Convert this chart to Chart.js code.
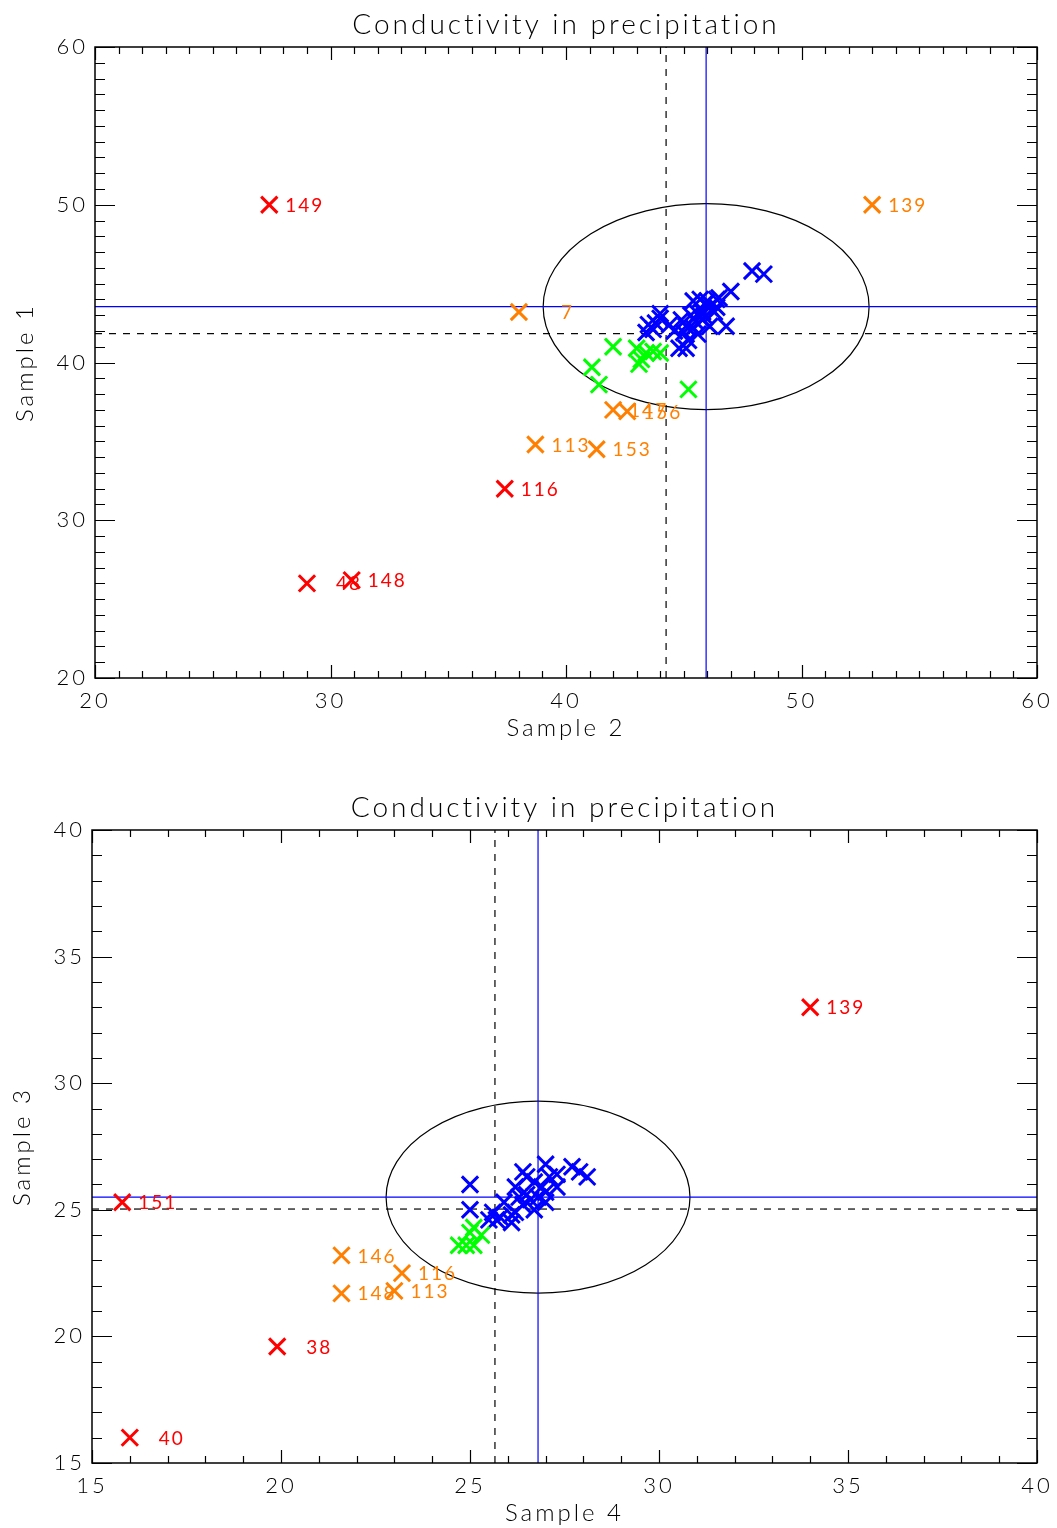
<!DOCTYPE html>
<html lang="en">
<head>
  <meta charset="UTF-8">
  <title>Conductivity in precipitation</title>
  <script src="https://cdn.jsdelivr.net/npm/chart.js"></script>
  <style>
    body { margin: 0; background: #fff; }
    canvas { display: block; }
  </style>
</head>
<body>
  <canvas id="chartTop" width="1057" height="764"></canvas>
  <canvas id="chartBottom" width="1057" height="764"></canvas>

  <script>
    // ---------- top panel: Sample 2 (x) vs Sample 1 (y)
    const topTitle = 'Conductivity in precipitation';
    const topXRange = [20, 60];
    const topYRange = [20, 60];
    const topBlue = [
      [47.9, 45.8], [48.4, 45.6], [47.0, 44.5], [46.5, 44.1], [46.4, 44.0], [46.1, 43.5],
      [45.8, 43.2], [45.4, 43.9], [45.6, 43.1], [46.8, 42.3], [44.0, 43.1], [44.0, 42.8],
      [43.8, 42.5], [43.5, 42.4], [43.4, 41.9], [43.7, 42.1], [44.4, 42.4], [44.9, 42.7],
      [45.0, 41.9], [45.1, 40.9], [44.8, 40.9], [45.6, 41.8], [45.8, 42.7], [46.1, 42.3],
      [45.5, 42.6], [45.3, 43.0], [45.2, 41.4], [45.7, 44.0], [45.9, 43.7], [46.3, 43.2],
      [45.4, 42.2], [45.9, 42.9], [46.0, 43.9], [45.1, 42.3], [44.6, 42.0], [46.4, 43.5]
    ];
    const topGreen = [
      [42.0, 41.0], [41.1, 39.7], [41.4, 38.6], [43.0, 40.9], [43.1, 39.9],
      [43.4, 40.6], [43.7, 40.7], [44.0, 40.6], [45.2, 38.3], [43.2, 40.2]
    ];
    const topOrange = [[53.0, 50.0], [38.0, 43.2], [42.0, 37.0], [42.6, 36.9], [38.7, 34.8], [41.3, 34.5]];
    const topOrangeLabels = ['139', '7', '147', '156', '113', '153'];
    const topRed = [[27.4, 50.0], [37.4, 32.0], [29.0, 26.0], [30.9, 26.2]];
    const topRedLabels = ['149', '116', '48', '148'];
    const topMean = [45.95, 43.54];     // solid blue cross lines
    const topMedian = [44.25, 41.83];   // dashed black cross lines
    const topEllipse = [45.95, 43.54, 6.92, 6.53]; // centre x, centre y, half width, half height

    // ---------- bottom panel: Sample 4 (x) vs Sample 3 (y)
    const botXRange = [15, 40];
    const botYRange = [15, 40];
    const botBlue = [
      [27.0, 26.8], [27.7, 26.7], [28.1, 26.3], [27.9, 26.5], [26.4, 26.5], [26.5, 26.3],
      [26.7, 26.1], [27.1, 26.3], [27.3, 26.4], [27.3, 25.9], [27.0, 25.7], [26.8, 25.5],
      [26.6, 25.4], [26.4, 25.2], [27.0, 25.3], [26.2, 24.9], [26.1, 24.8], [25.9, 25.3],
      [25.8, 24.7], [25.6, 24.9], [25.5, 24.6], [26.1, 24.5], [26.7, 25.0], [26.3, 25.5],
      [26.2, 25.9], [25.0, 26.0], [25.0, 25.0], [26.9, 25.9], [26.5, 25.6], [25.7, 24.6]
    ];
    const botGreen = [[24.7, 23.6], [24.9, 23.6], [25.1, 24.3], [25.1, 23.6], [25.3, 24.0], [25.0, 24.1]];
    const botOrange = [[21.6, 23.2], [23.2, 22.5], [21.6, 21.7], [23.0, 21.8]];
    const botOrangeLabels = ['146', '116', '148', '113'];
    const botRed = [[34.0, 33.0], [15.8, 25.3], [19.9, 19.6], [16.0, 16.0]];
    const botRedLabels = ['139', '151', '38', '40'];
    const botMean = [26.8, 25.5];
    const botMedian = [25.66, 25.03];
    const botEllipse = [26.8, 25.5, 4.02, 3.79];

    const RED = '#ff0000', ORANGE = '#ff8000', GREEN = '#00ff00', BLUE = '#0000ff';
    const FONT = 'Lato';

    const pts = arr => arr.map(([x, y]) => ({ x, y }));

    // box, inward ticks on all four sides, ellipse and number labels
    const idlFrame = {
      id: 'idlFrame',
      beforeDraw(chart) {
        chart.ctx.letterSpacing = '3px';
      },
      beforeDatasetsDraw(chart, args, opts) {
        const { ctx, scales: { x, y } } = chart;
        const [cx, cy, ax, by] = opts.ellipse;
        const px = x.getPixelForValue(cx), py = y.getPixelForValue(cy);
        const rx = Math.abs(x.getPixelForValue(cx + ax) - px);
        const ry = Math.abs(y.getPixelForValue(cy + by) - py);
        ctx.save();
        ctx.strokeStyle = '#000';
        ctx.lineWidth = 1.2;
        ctx.beginPath();
        ctx.ellipse(px, py, rx, ry, 0, 0, Math.PI * 2);
        ctx.stroke();
        ctx.restore();
      },
      afterDatasetsDraw(chart) {
        const ctx = chart.ctx;
        ctx.save();
        ctx.font = `400 19px ${FONT}`;
        ctx.letterSpacing = '2px';
        const w3 = ctx.measureText('000').width;
        ctx.textAlign = 'right';
        ctx.textBaseline = 'middle';
        chart.data.datasets.forEach((ds, i) => {
          if (!ds.pointLabels) return;
          ctx.fillStyle = ds.borderColor;
          chart.getDatasetMeta(i).data.forEach((pt, j) => {
            ctx.fillText(ds.pointLabels[j], pt.x + 16 + w3, pt.y + 1);
          });
        });
        ctx.restore();
      },
      afterDraw(chart, args, opts) {
        const { ctx, chartArea: a, scales: { x, y } } = chart;
        ctx.save();
        ctx.strokeStyle = '#000';
        ctx.lineWidth = 1.2;
        ctx.beginPath();
        const nx = Math.round((x.max - x.min) / opts.minor);
        for (let i = 0; i <= nx; i++) {
          const v = x.min + i * opts.minor;
          const major = Math.abs(v / opts.xMajor - Math.round(v / opts.xMajor)) < 1e-6;
          const len = major ? 13 : 7;
          const p = Math.round(x.getPixelForValue(v)) + 0.5;
          ctx.moveTo(p, a.bottom); ctx.lineTo(p, a.bottom - len);
          ctx.moveTo(p, a.top); ctx.lineTo(p, a.top + len);
        }
        const ny = Math.round((y.max - y.min) / opts.minor);
        for (let i = 0; i <= ny; i++) {
          const v = y.min + i * opts.minor;
          const major = Math.abs(v / opts.yMajor - Math.round(v / opts.yMajor)) < 1e-6;
          const len = major ? 20 : 10;
          const p = Math.round(y.getPixelForValue(v)) + 0.5;
          ctx.moveTo(a.left, p); ctx.lineTo(a.left + len, p);
          ctx.moveTo(a.right, p); ctx.lineTo(a.right - len, p);
        }
        ctx.stroke();
        ctx.lineWidth = 1.5;
        ctx.strokeRect(a.left, a.top, a.right - a.left, a.bottom - a.top);
        ctx.restore();
      }
    };

    function crosses(data, color, labels) {
      return {
        data: pts(data),
        borderColor: color,
        backgroundColor: color,
        pointStyle: 'crossRot',
        pointRadius: 11.5,
        pointBorderWidth: 3,
        showLine: false,
        pointLabels: labels,
        order: 1
      };
    }

    function crossLines(xv, yv, xr, yr, color, dash) {
      const base = { showLine: true, borderColor: color, borderWidth: 1.2, borderDash: dash, pointRadius: 0, order: 5 };
      return [
        Object.assign({ data: [{ x: xv, y: yr[0] }, { x: xv, y: yr[1] }] }, base),
        Object.assign({ data: [{ x: xr[0], y: yv }, { x: xr[1], y: yv }] }, base)
      ];
    }

    function makeChart(id, cfg) {
      const axisFont = { family: FONT, size: 22, weight: '300', lineHeight: 1 };
      const titleFont = { family: FONT, size: 24, weight: '300', lineHeight: 1 };
      return new Chart(document.getElementById(id), {
        type: 'scatter',
        data: {
          datasets: [
            ...crossLines(cfg.median[0], cfg.median[1], cfg.xr, cfg.yr, '#000', [7, 7]),
            ...crossLines(cfg.mean[0], cfg.mean[1], cfg.xr, cfg.yr, BLUE, []),
            crosses(cfg.green, GREEN),
            crosses(cfg.blue, BLUE),
            crosses(cfg.orange, ORANGE, cfg.orangeLabels),
            crosses(cfg.red, RED, cfg.redLabels)
          ]
        },
        options: {
          responsive: false,
          animation: false,
          layout: { padding: { left: 0, right: 20, top: 0, bottom: cfg.padBottom } },
          plugins: {
            legend: { display: false },
            tooltip: { enabled: false },
            title: {
              display: true,
              fullSize: false,
              text: topTitle,
              color: '#000',
              font: { family: FONT, size: 28, weight: '300', lineHeight: 1.2 },
              padding: { top: cfg.titleTop, bottom: cfg.titleBottom }
            },
            idlFrame: { ellipse: cfg.ellipse, minor: 1, xMajor: cfg.xStep, yMajor: cfg.yStep }
          },
          scales: {
            x: {
              type: 'linear',
              min: cfg.xr[0], max: cfg.xr[1],
              grid: { display: false, drawTicks: true, tickLength: 12 },
              border: { display: false },
              afterFit: s => { s.height = 62; },
              ticks: { stepSize: cfg.xStep, padding: 0, color: '#000', maxRotation: 0, font: axisFont },
              title: {
                display: true, text: cfg.xTitle, color: '#000', font: titleFont,
                padding: { top: 1, bottom: 0 }
              }
            },
            y: {
              type: 'linear',
              min: cfg.yr[0], max: cfg.yr[1],
              grid: { display: false, drawTicks: false },
              border: { display: false },
              afterFit: s => { s.width = cfg.yWidth; },
              ticks: { stepSize: cfg.yStep, padding: 7, color: '#000', font: axisFont },
              title: {
                display: true, text: cfg.yTitle, color: '#000', font: titleFont,
                padding: { top: cfg.yTitlePad, bottom: 0 }
              }
            }
          }
        },
        plugins: [idlFrame]
      });
    }

    makeChart('chartTop', {
      xr: topXRange, yr: topYRange, xStep: 10, yStep: 10,
      blue: topBlue, green: topGreen, orange: topOrange, orangeLabels: topOrangeLabels,
      red: topRed, redLabels: topRedLabels, mean: topMean, median: topMedian, ellipse: topEllipse,
      xTitle: 'Sample 2', yTitle: 'Sample 1',
      titleTop: 8.2, titleBottom: 5.2, padBottom: 24, yWidth: 95, yTitlePad: 13
    });

    makeChart('chartBottom', {
      xr: botXRange, yr: botYRange, xStep: 5, yStep: 5,
      blue: botBlue, green: botGreen, orange: botOrange, orangeLabels: botOrangeLabels,
      red: botRed, redLabels: botRedLabels, mean: botMean, median: botMedian, ellipse: botEllipse,
      xTitle: 'Sample 4', yTitle: 'Sample 3',
      titleTop: 27.2, titleBottom: 5.2, padBottom: 3, yWidth: 92, yTitlePad: 10
    });
  </script>
</body>
</html>
